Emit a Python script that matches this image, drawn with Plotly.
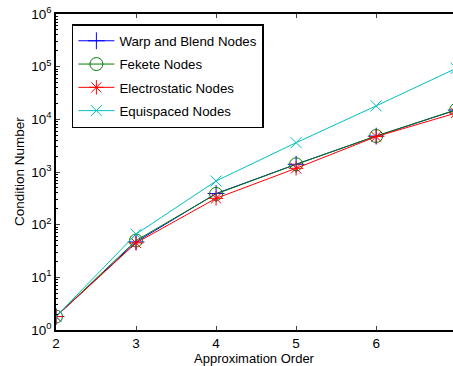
import plotly.graph_objects as go

orders = [2, 3, 4, 5, 6, 7]
warp_blend = [1.8, 47, 390, 1400, 4800, 15000]
fekete = [1.8, 50, 383, 1400, 4820, 15200]
electrostatic = [1.8, 45, 316, 1175, 4700, 13200]
equispaced = [1.8, 66, 675, 3600, 18000, 93000]

names = ["Warp and Blend Nodes", "Fekete Nodes", "Electrostatic Nodes", "Equispaced Nodes"]
series = [warp_blend, fekete, electrostatic, equispaced]
colors = ["#0000FF", "#008000", "#FF0000", "#00BFBF"]
symbols = ["cross-thin-open", "circle-open", "asterisk-open", "x-thin-open"]
sizes = [12, 13, 12, 11]

ytick_vals = [1, 10, 100, 1000, 10000, 100000, 1000000]
ytick_text = ["10<sup>0</sup>", "10<sup>1</sup>", "10<sup>2</sup>", "10<sup>3</sup>",
              "10<sup>4</sup>", "10<sup>5</sup>", "10<sup>6</sup>"]
xtick_vals = [2, 3, 4, 5, 6, 7]

fig = go.Figure()
for i, (n, s, c, sym, sz) in enumerate(zip(names, series, colors, symbols, sizes)):
    fig.add_trace(go.Scatter(
        x=orders, y=s, name=n, mode="lines+markers",
        line=dict(color=c, width=1),
        marker=dict(symbol=sym, size=sz, color=c, line=dict(color=c, width=1)),
        legendgroup=f"g{i}",
    ))

fnt = "Liberation Sans, Arial, Helvetica, sans-serif"
fig.update_layout(
    width=453, height=366,
    margin=dict(l=56, r=0, t=14, b=36),
    paper_bgcolor="white", plot_bgcolor="white",
    font=dict(family=fnt, size=12, color="black"),
    showlegend=True,
    legend=dict(
        x=0.04, y=0.968, xanchor="left", yanchor="top",
        bordercolor="black", borderwidth=1.5, bgcolor="white",
        font=dict(size=13.3, family=fnt, color="black"),
        traceorder="grouped", tracegroupgap=3,
        itemwidth=36,
    ),
    xaxis=dict(
        range=[2, 6.96], tickvals=xtick_vals, ticks="inside", ticklen=4,
        showline=True, linecolor="black", linewidth=1.5, mirror="ticks",
        showgrid=False, zeroline=False, automargin=False,
        tickfont=dict(size=13.5), ticklabeloverflow="allow",
    ),
    yaxis=dict(
        type="log", range=[0, 6], tickvals=ytick_vals, ticktext=ytick_text,
        ticks="inside", ticklen=4,
        showline=True, linecolor="black", linewidth=1.5, mirror=False,
        showgrid=False, zeroline=False, automargin=False,
        minor=dict(ticks="inside", ticklen=2, dtick="D1", showgrid=False, tickcolor="black"),
        tickfont=dict(size=13.5), ticklabeloverflow="allow",
    ),
    yaxis2=dict(
        type="log", range=[0, 6], overlaying="y", side="right",
        tickvals=ytick_vals, ticks="inside", ticklen=4, showticklabels=False,
        showline=False, showgrid=False, zeroline=False, automargin=False,
        minor=dict(ticks="inside", ticklen=2, dtick="D1", showgrid=False, tickcolor="black"),
    ),
    annotations=[
        dict(text="Approximation Order", xref="paper", yref="paper", x=0.5, y=0,
             yshift=-28, xanchor="center", yanchor="middle", showarrow=False,
             font=dict(size=13)),
        dict(text="Condition Number", xref="paper", yref="paper", x=0, y=0.5,
             xshift=-37, xanchor="center", yanchor="middle", showarrow=False,
             textangle=-90, font=dict(size=13.5)),
    ],
)

fig.write_html(
    "out.html",
    config={"displayModeBar": False},
    post_script="document.body.style.margin='0';document.body.style.overflow='hidden';",
)
